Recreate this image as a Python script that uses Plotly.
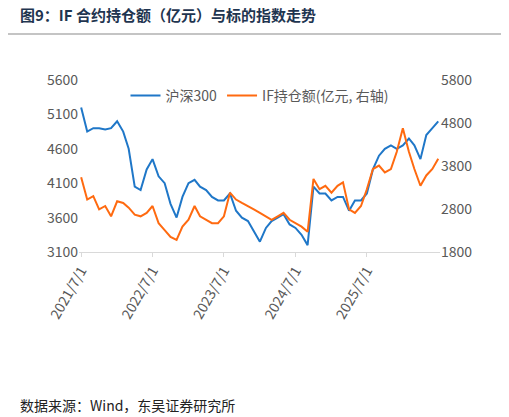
import pandas as pd
import plotly.graph_objects as go

dates = pd.date_range("2021-07-01", "2026-07-01", freq="MS")

hs300 = [5200, 4850, 4900, 4900, 4880, 4900, 5000, 4850, 4600, 4050, 4000, 4300,
         4450, 4200, 4100, 3800, 3600, 3900, 4100, 4150, 4050, 4000, 3900, 3850,
         3850, 3950, 3700, 3600, 3550, 3400, 3250, 3450, 3550, 3600, 3650, 3500,
         3450, 3350, 3200, 4050, 3950, 3950, 3850, 3900, 3900, 3700, 3850, 3850,
         3950, 4300, 4500, 4600, 4650, 4600, 4650, 4750, 4650, 4450, 4800, 4900, 5000]

if_oi = [3540, 3020, 3100, 2790, 2870, 2630, 2980, 2940, 2830, 2670, 2630, 2710,
         2870, 2470, 2310, 2150, 2080, 2390, 2550, 2870, 2630, 2550, 2470, 2470,
         2630, 3180, 3020, 2940, 2870, 2790, 2710, 2630, 2550, 2630, 2710, 2550,
         2470, 2390, 2270, 3500, 3260, 3340, 3180, 3340, 3420, 2790, 2710, 2870,
         3260, 3730, 3810, 3650, 3730, 4130, 4680, 4130, 3730, 3340, 3580, 3730, 3970]

ticks = ["2021-07-01", "2022-07-01", "2023-07-01", "2024-07-01", "2025-07-01"]
tick_text = ["2021/7/1", "2022/7/1", "2023/7/1", "2024/7/1", "2025/7/1"]

fig = go.Figure()
fig.add_trace(go.Scatter(x=dates, y=hs300, name="沪深300", mode="lines",
                         line=dict(color="#1F77C8", width=2)))
fig.add_trace(go.Scatter(x=dates, y=if_oi, name="IF持仓额(亿元, 右轴)", mode="lines",
                         line=dict(color="#FF6A10", width=2), yaxis="y2"))

font_cjk = "Noto Sans CJK SC"
fig.update_layout(
    width=501, height=405, template="simple_white",
    margin=dict(l=71, r=69, t=72, b=161),
    font=dict(family=font_cjk, size=14, color="#595959"),
    showlegend=True,
    legend=dict(orientation="h", x=0.5, xanchor="center", y=1.0, yanchor="top",
                bgcolor="rgba(0,0,0,0)", font=dict(size=14, color="#595959")),
    xaxis=dict(tickvals=ticks, ticktext=tick_text, tickangle=-60,
               range=["2021-06-20", "2026-07-10"], showline=True, linecolor="#d9d9d9",
               ticks="outside", tickcolor="#d9d9d9", ticklen=4),
    yaxis=dict(range=[3100, 5600], tickvals=[3100, 3600, 4100, 4600, 5100, 5600],
               showline=False, ticks=""),
    yaxis2=dict(range=[1800, 5800], tickvals=[1800, 2800, 3800, 4800, 5800],
                overlaying="y", side="right", showline=False, ticks=""),
    shapes=[dict(type="line", xref="paper", yref="paper", x0=-0.205, x1=1.175,
                 y0=1.267, y1=1.267, line=dict(color="black", width=1.5))],
    annotations=[
        dict(text="<b>图9：IF 合约持仓额（亿元）与标的指数走势</b>", xref="paper", yref="paper",
             x=-0.17, y=1.378, xanchor="left", yanchor="middle", showarrow=False,
             font=dict(family=font_cjk, size=15, color="#1F3550")),
        dict(text="数据来源：Wind，东吴证券研究所", xref="paper", yref="paper",
             x=-0.17, y=-0.89, xanchor="left", yanchor="middle", showarrow=False,
             font=dict(family=font_cjk, size=14, color="#222222")),
    ],
)

fig.write_html("out.html")
